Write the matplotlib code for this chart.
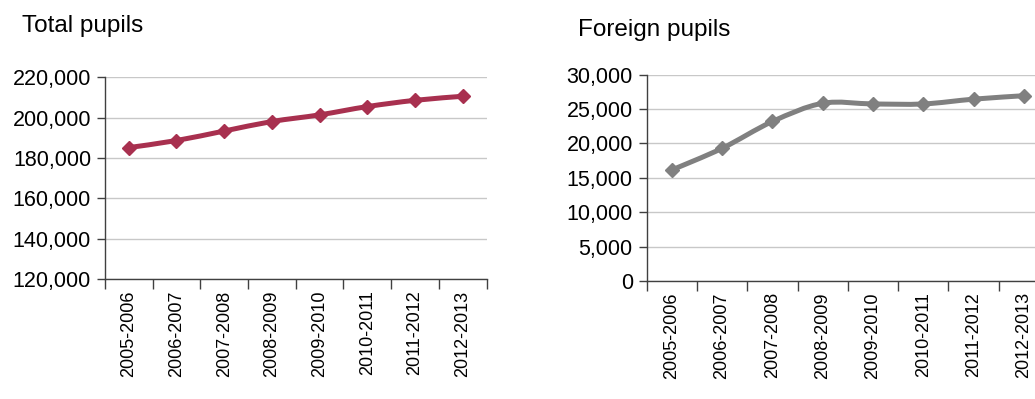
import numpy as np
import matplotlib.pyplot as plt
from matplotlib.path import Path
from matplotlib.patches import PathPatch
from matplotlib.ticker import FuncFormatter

plt.rcParams['font.family'] = ['Liberation Sans', 'DejaVu Sans']

# Data
years = ["2005-2006", "2006-2007", "2007-2008", "2008-2009",
         "2009-2010", "2010-2011", "2011-2012", "2012-2013"]
total_pupils = [185200, 188700, 193400, 198100, 201400, 205500, 208600, 210600]
foreign_pupils = [16150, 19300, 23200, 25850, 25750, 25750, 26450, 26950]


def smooth_line(ax, x, y, color):
    # Excel-style smoothed line as cubic Bezier segments through the points
    pts = np.column_stack([x, y]).astype(float)
    n = len(pts)
    verts = [pts[0]]
    codes = [Path.MOVETO]
    for i in range(n - 1):
        p0 = pts[i - 1] if i > 0 else pts[i]
        p1 = pts[i]
        p2 = pts[i + 1]
        p3 = pts[i + 2] if i + 2 < n else pts[i + 1]
        c1 = p1 + (p2 - p0) / 6
        c2 = p2 - (p3 - p1) / 6
        verts += [c1, c2, p2]
        codes += [Path.CURVE4] * 3
    patch = PathPatch(Path(verts, codes), facecolor="none", edgecolor=color,
                      lw=3.6, capstyle="round", joinstyle="round", zorder=3)
    ax.add_patch(patch)
    ax.plot(x, y, linestyle="none", marker="D", markersize=7, color=color, zorder=4)


def style_axes(ax, ymin, ymax, step):
    ax.set_xlim(0, len(years))
    ax.set_ylim(ymin, ymax)
    ax.set_yticks(np.arange(ymin, ymax + 1, step))
    ax.yaxis.set_major_formatter(FuncFormatter(lambda v, p: f"{int(v):,}"))
    ax.set_xticks(np.arange(0, len(years) + 1))
    ax.set_xticklabels([])
    ax.set_xticks(np.arange(len(years)) + 0.5, minor=True)
    ax.set_xticklabels(years, minor=True, rotation=90, fontsize=13)
    ax.tick_params(axis="x", which="minor", length=0, pad=8)
    ax.tick_params(axis="x", which="major", length=7, color="#404040", width=1)
    ax.tick_params(axis="y", length=6, color="#404040", width=1, labelsize=15.5, pad=4)
    ax.grid(axis="y", color="#c8c8c8", linewidth=1)
    ax.set_axisbelow(True)
    for s in ["top", "right"]:
        ax.spines[s].set_visible(False)
    for s in ["left", "bottom"]:
        ax.spines[s].set_color("#404040")
        ax.spines[s].set_linewidth(1)


fig = plt.figure(figsize=(10.35, 3.99), dpi=100)

ax1 = fig.add_axes([0.1014, 0.300, 0.3687, 0.5063])
style_axes(ax1, 120000, 220000, 20000)
smooth_line(ax1, np.arange(len(years)) + 0.5, total_pupils, "#a8304f")
fig.text(22 / 1035, 1 - 32 / 399, "Total pupils", fontsize=17.5, ha="left", va="baseline")

ax2 = fig.add_axes([0.6248, 0.2957, 0.3888, 0.517])
style_axes(ax2, 0, 30000, 5000)
smooth_line(ax2, np.arange(len(years)) + 0.5, foreign_pupils, "#808080")
fig.text(578 / 1035, 1 - 36 / 399, "Foreign pupils", fontsize=17.5, ha="left", va="baseline")

fig.savefig("out.png", dpi=100)
